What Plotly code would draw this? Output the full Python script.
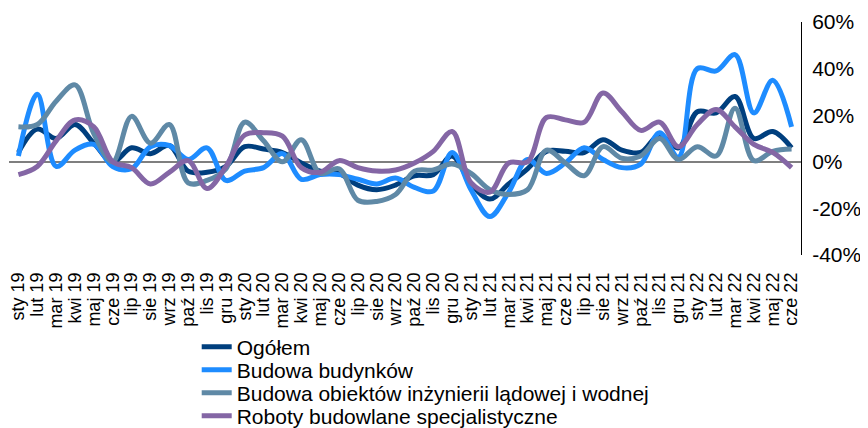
import plotly.graph_objects as go

months = ["sty", "lut", "mar", "kwi", "maj", "cze", "lip", "sie", "wrz", "paź", "lis", "gru"]
categories = [f"{m} {y}" for y in ["19", "20", "21"] for m in months] + [f"{m} 22" for m in months[:6]]

ogolem = [4, 14, 10, 16, 8, 0, 6, 3.5, 7, -4, -4.5, -2,
          6.5, 5.5, 4, -0.5, -4, -5, -10, -12, -10, -6,
          -5.5, 2.5, -9.5, -16, -9.5, -3, 4.5, 4.5, 4, 9.5, 5, 4,
          11.5, 6, 21.5, 21, 28, 10, 13, 6]
budynki = [2.5, 29, -2, 5, 7.5, -2, -3, 6.5, 7, 1, 6, -8,
           -4, -2.5, 3.5, -7.5, -5.5, -5.5, -7.5, -9.5, -7, -11,
           -12.5, 4, -12, -23.5, -13, 1, -5, -0.5, 6, 1, -2.5, -1,
           12.5, 2, 40, 39, 46, 21, 35, 15]
inzynieria = [15, 16, 26, 33, 12, 0, 19.5, 8, 16, -9, -8, -3,
              17, 9, 0, 9.5, -5, -3, -16.5, -17, -14, -4,
              -3.5, -1, -5, -12, -14, -12, 5, -0.5, -6, 6.5, 1.5, 2.5,
              10, 1, 6.5, 2.5, 23, 0.5, 4.5, 5.5]
specjalistyczne = [-5.5, -2, 9, 18, 15, 0, -2.5, -9.5, -4.5, 0.5, -11.5, -2,
                   11.5, 12.5, 11, -2.5, -4.5, 0.5, -2.5, -4, -3.5, -0.5,
                   4.5, 13, -9, -13, -0.5, 0, 19, 18, 17, 29.5, 21.5, 13.5,
                   17, 6.5, 16, 22.5, 15, 7.5, 4, -2.5]

series_names = ["Ogółem", "Budowa budynków",
                "Budowa obiektów inżynierii lądowej i wodnej",
                "Roboty budowlane specjalistyczne"]
series_values = [ogolem, budynki, inzynieria, specjalistyczne]
colors = ["#003F7E", "#1E8CFF", "#5F89A6", "#8466A5"]
legend_ids = ["legend", "legend2", "legend3", "legend4"]

y_ticks = [-40, -20, 0, 20, 40, 60]

fig = go.Figure()
for name, vals, col, lg in zip(series_names, series_values, colors, legend_ids):
    fig.add_trace(go.Scatter(
        x=categories, y=vals, name=name, mode="lines", legend=lg,
        line=dict(color=col, width=5, shape="spline", smoothing=1.0),
    ))

# page body has an 8px margin, so the figure is 860x420 and sits at (8, 8)
# plot area on screen: x 8.5..801.5, y 22..255 (height 233)
row_px = [347, 370, 393, 416]
legend_cfg = {}
for lg, py in zip(legend_ids, row_px):
    legend_cfg[lg] = dict(
        x=0.237, y=(255 - py) / 233, xanchor="left", yanchor="middle",
        orientation="v", font=dict(size=21), bgcolor="rgba(0,0,0,0)",
        itemwidth=30,
    )

fig.update_layout(
    width=860, height=420,
    margin=dict(l=0.5, r=66.5, t=14, b=173, autoexpand=False),
    paper_bgcolor="white", plot_bgcolor="white",
    font=dict(family="Liberation Sans, Arial, sans-serif", color="#000000"),
    showlegend=True,
    **legend_cfg,
)
fig.update_xaxes(
    type="category", range=[-0.5, 41.5], tickangle=-90,
    tickmode="array", tickvals=categories, ticktext=categories,
    showgrid=False, showline=False, ticks="", zeroline=False,
    tickfont=dict(size=18), ticklabelstandoff=13,
)
fig.update_yaxes(
    side="right", range=[-40, 60], tickvals=y_ticks,
    ticktext=[f"{v}%" for v in y_ticks],
    showgrid=False, showline=True, linecolor="#000000", linewidth=1,
    ticks="", zeroline=True, zerolinecolor="#7F7F7F", zerolinewidth=1.5,
    tickfont=dict(size=21), ticklabelstandoff=6,
)

fig.write_html("out.html")
